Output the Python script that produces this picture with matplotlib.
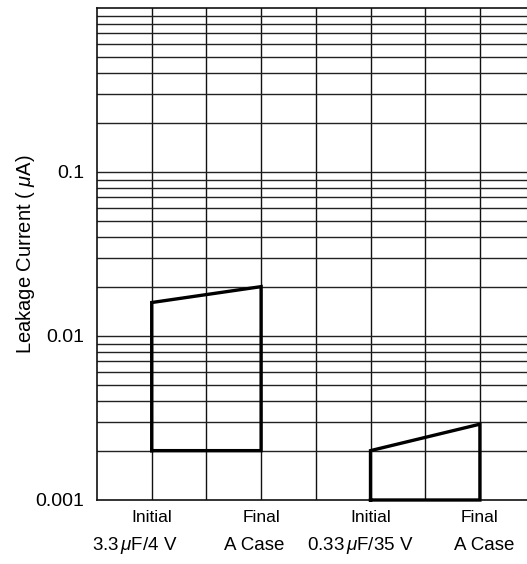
import matplotlib
matplotlib.use("Agg")
import matplotlib.pyplot as plt
import matplotlib.transforms as mtransforms
import numpy as np

# stage positions on the x axis (grid columns)
stage_x = [1, 3, 5, 7]
stage_labels = ["Initial", "Final", "Initial", "Final"]

# lower / upper bounds of leakage current band (uA) at initial and final
part1_low = [0.002, 0.002]
part1_high = [0.016, 0.02]
part2_low = [0.001, 0.001]
part2_high = [0.002, 0.0029]

group_labels = [r"3.3$\,\mu$F/4 V", "A Case", r"0.33$\,\mu$F/35 V", "A Case"]
group_label_x = [0.69, 2.87, 4.81, 7.07]

plt.rcParams.update({
    "font.family": "Liberation Sans",
    "mathtext.fontset": "custom",
    "mathtext.it": "Liberation Sans:italic",
    "mathtext.rm": "Liberation Sans",
})

fig = plt.figure(figsize=(5.27, 5.64), dpi=100)
ax = fig.add_axes([97 / 527, 1 - 500 / 564, 430 / 527, 492 / 564])

ax.set_yscale("log")
ax.set_ylim(0.001, 1.0)
ax.set_xlim(0, 430 / 54.7)

# grid: vertical column lines and log horizontal lines
for x in range(1, 8):
    ax.axvline(x, color="#111111", lw=1.0, zorder=1)
for dec in [0.001, 0.01, 0.1]:
    for m in range(1, 10):
        v = dec * m
        if v <= 0.001:
            continue
        ax.axhline(v, color="#222222", lw=1.0, zorder=1)

# band outlines
def draw_band(xs, low, high):
    px = [xs[0], xs[0], xs[1], xs[1], xs[0]]
    py = [low[0], high[0], high[1], low[1], low[0]]
    ax.plot(px, py, color="black", lw=2.4, solid_joinstyle="miter",
            clip_on=False, zorder=3)

draw_band(stage_x[0:2], part1_low, part1_high)
draw_band(stage_x[2:4], part2_low, part2_high)

ax.spines["right"].set_visible(False)
for s in ["left", "top", "bottom"]:
    ax.spines[s].set_color("#111111")
    ax.spines[s].set_linewidth(1.2)

ax.set_yticks([0.001, 0.01, 0.1])
ax.set_yticklabels(["0.001", "0.01", "0.1"])
ax.yaxis.set_minor_locator(matplotlib.ticker.NullLocator())
ax.tick_params(axis="y", length=0, pad=9, labelsize=14)

ax.set_xticks(stage_x)
ax.set_xticklabels(stage_labels)
ax.tick_params(axis="x", length=0, pad=7, labelsize=12.5)

ax.set_ylabel(r"Leakage Current ($\ \mu$A)", fontsize=14.5)
ax.yaxis.set_label_coords(-0.14, 0.5)

trans = mtransforms.blended_transform_factory(ax.transData, fig.transFigure)
for x, lab in zip(group_label_x, group_labels):
    ax.text(x, 1 - 545 / 564, lab, transform=trans, ha="center", va="center",
            fontsize=13.5)

fig.savefig("out.png", dpi=100)
